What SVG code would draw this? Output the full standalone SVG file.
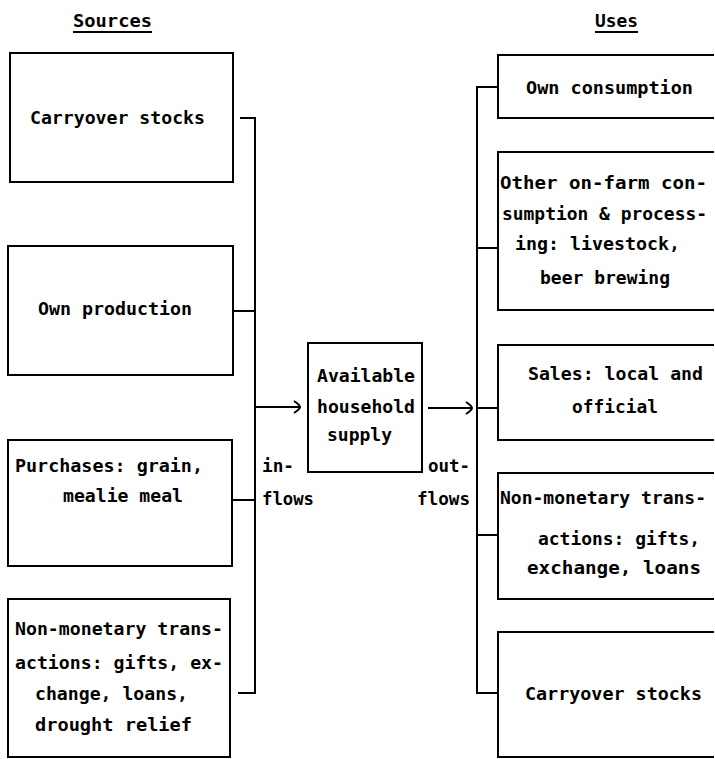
<svg xmlns="http://www.w3.org/2000/svg" width="715" height="759" viewBox="0 0 715 759">
<style>
.box{fill:#fff;stroke:#000;stroke-width:2}
.open{fill:#fff;stroke:#000;stroke-width:2}
.ln{fill:none;stroke:#000;stroke-width:2}
text{font-family:"DejaVu Sans Mono","Liberation Mono",monospace;font-weight:bold;font-size:18.5px;fill:#000}
</style>
<defs>
<marker id="chev" markerUnits="userSpaceOnUse" markerWidth="10" markerHeight="16" refX="7" refY="7" orient="auto">
<path d="M1,1 Q7,5 7,7 Q7,9 1,13" fill="none" stroke="#000" stroke-width="2"/>
</marker>
</defs>
<rect width="715" height="759" fill="#fff"/>
<g id="title-sources">
<text x="73" y="27" textLength="79" lengthAdjust="spacingAndGlyphs">Sources</text>
<line class="ln" x1="73" y1="32" x2="152" y2="32"/>
</g>
<g id="title-uses">
<text x="595" y="27" textLength="43" lengthAdjust="spacingAndGlyphs">Uses</text>
<line class="ln" x1="595" y1="32" x2="638" y2="32"/>
</g>
<g id="src-carryover">
<rect class="box" x="10" y="53" width="223" height="129"/>
<text x="30" y="124" textLength="175" lengthAdjust="spacingAndGlyphs">Carryover stocks</text>
</g>
<g id="src-production">
<rect class="box" x="8" y="246" width="225" height="129"/>
<text x="38" y="315" textLength="154" lengthAdjust="spacingAndGlyphs">Own production</text>
</g>
<g id="src-purchases">
<rect class="box" x="8" y="440" width="224" height="126"/>
<text x="15" y="472" textLength="188" lengthAdjust="spacingAndGlyphs">Purchases: grain,</text>
<text x="63" y="502" textLength="120" lengthAdjust="spacingAndGlyphs">mealie meal</text>
</g>
<g id="src-nonmonetary">
<rect class="box" x="8" y="599" width="222" height="158"/>
<text x="15" y="635" textLength="208" lengthAdjust="spacingAndGlyphs">Non-monetary trans-</text>
<text x="15" y="669" textLength="208" lengthAdjust="spacingAndGlyphs">actions: gifts, ex-</text>
<text x="35" y="700" textLength="153" lengthAdjust="spacingAndGlyphs">change, loans,</text>
<text x="35" y="731" textLength="157" lengthAdjust="spacingAndGlyphs">drought relief</text>
</g>
<g id="supply">
<rect class="box" x="308" y="343" width="114" height="129"/>
<text x="317" y="382" textLength="98" lengthAdjust="spacingAndGlyphs">Available</text>
<text x="317" y="413" textLength="98" lengthAdjust="spacingAndGlyphs">household</text>
<text x="327" y="441" textLength="65" lengthAdjust="spacingAndGlyphs">supply</text>
</g>
<g id="use-own">
<path class="open" d="M714,55 H498 V118 H714"/>
<text x="526" y="94" textLength="167" lengthAdjust="spacingAndGlyphs">Own consumption</text>
</g>
<g id="use-onfarm">
<path class="open" d="M714,152 H498 V310 H714"/>
<text x="500" y="189" textLength="207" lengthAdjust="spacingAndGlyphs">Other on-farm con-</text>
<text x="502" y="220" textLength="205" lengthAdjust="spacingAndGlyphs">sumption &amp; process-</text>
<text x="515" y="250" textLength="165" lengthAdjust="spacingAndGlyphs">ing: livestock,</text>
<text x="540" y="284" textLength="130" lengthAdjust="spacingAndGlyphs">beer brewing</text>
</g>
<g id="use-sales">
<path class="open" d="M714,345 H498 V440 H714"/>
<text x="528" y="380" textLength="175" lengthAdjust="spacingAndGlyphs">Sales: local and</text>
<text x="572" y="413" textLength="86" lengthAdjust="spacingAndGlyphs">official</text>
</g>
<g id="use-nonmonetary">
<path class="open" d="M714,473 H498 V599 H714"/>
<text x="500" y="504" textLength="206" lengthAdjust="spacingAndGlyphs">Non-monetary trans-</text>
<text x="538" y="545" textLength="162" lengthAdjust="spacingAndGlyphs">actions: gifts,</text>
<text x="527" y="574" textLength="174" lengthAdjust="spacingAndGlyphs">exchange, loans</text>
</g>
<g id="use-carryover">
<path class="open" d="M714,632 H498 V757 H714"/>
<text x="525" y="700" textLength="177" lengthAdjust="spacingAndGlyphs">Carryover stocks</text>
</g>
<g id="connectors">
<path class="ln" d="M240,118 H255 V693 H238 M233,311 H255 M233,500 H255"/>
<line class="ln" x1="255" y1="407" x2="300" y2="407" marker-end="url(#chev)"/>
<line class="ln" x1="428" y1="408" x2="472" y2="408" marker-end="url(#chev)"/>
<path class="ln" d="M498,87 H477 V693 H498 M477,248 H498 M477,408 H498 M477,535 H498"/>
<text x="262" y="472" textLength="32" lengthAdjust="spacingAndGlyphs">in-</text>
<text x="262" y="505" textLength="52" lengthAdjust="spacingAndGlyphs">flows</text>
<text x="428" y="472" textLength="42" lengthAdjust="spacingAndGlyphs">out-</text>
<text x="417" y="505" textLength="53" lengthAdjust="spacingAndGlyphs">flows</text>
</g>
</svg>
